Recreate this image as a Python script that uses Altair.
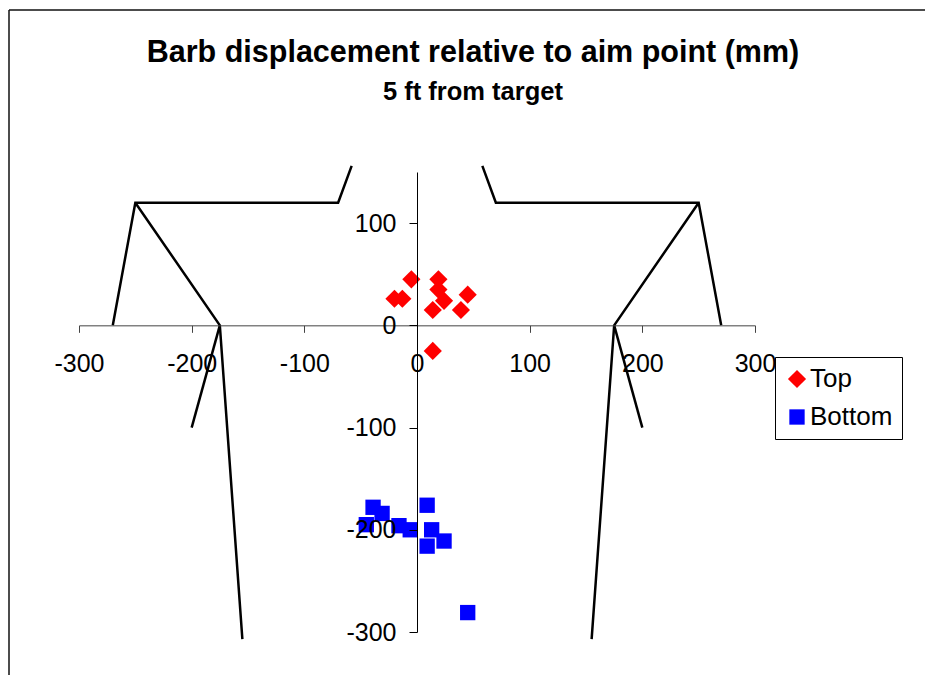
import altair as alt
import pandas as pd

# --- data ---
series_top_x = [-5, 19, 19, -20, -13, 24, 45, 14, 39, 14]
series_top_y = [45, 45, 35, 26, 26, 24, 30, 15, 15, -25]
series_bottom_x = [-39, -31, -45, -16, -6, 9, 13, 9, 24, 45]
series_bottom_y = [-178, -184, -195, -196, -200, -176, -200, -216, -211, -281]

# target outline polylines (mm)
outline_segments = {
    "L1": [(-270, 0), (-250, 120), (-70, 120), (-58, 156)],
    "L2": [(-250, 120), (-175, 0), (-155, -307)],
    "L3": [(-175, 0), (-200, -100)],
    "R1": [(270, 0), (250, 120), (70, 120), (58, 156)],
    "R2": [(250, 120), (175, 0), (155, -307)],
    "R3": [(175, 0), (200, -100)],
}

x_ticks = [-300, -200, -100, 0, 100, 200, 300]
y_ticks = [-300, -200, -100, 0, 100]
x_domain = [-300, 300]
y_domain = [-300, 150]
series_names = ["Top", "Bottom"]
series_colors = ["#ff0000", "#0000ff"]
series_shapes = ["diamond", "square"]
series_sizes = [330, 235]

pts = pd.DataFrame(
    [{"x": x, "y": y, "series": "Top"} for x, y in zip(series_top_x, series_top_y)]
    + [{"x": x, "y": y, "series": "Bottom"} for x, y in zip(series_bottom_x, series_bottom_y)]
)
lines = pd.DataFrame(
    [{"seg": k, "i": i, "x": p[0], "y": p[1]} for k, v in outline_segments.items() for i, p in enumerate(v)]
)

W, H = 676, 460
x_axis_offset = -(H - H * y_domain[1] / (y_domain[1] - y_domain[0]))
y_axis_offset = -(W * (0 - x_domain[0]) / (x_domain[1] - x_domain[0]))

FONT = "Liberation Sans"

xs = alt.Scale(domain=x_domain, nice=False, zero=False)
ys = alt.Scale(domain=y_domain, nice=False, zero=False)

x_axis = alt.Axis(values=x_ticks, offset=x_axis_offset, tickSize=7, labelPadding=19,
                  domainColor="#444444", tickColor="#444444", domainWidth=1, tickWidth=1,
                  labelFontSize=25, labelFont=FONT, labelColor="black", grid=False, title=None,
                  labelFlush=False, labelOverlap=False, zindex=1, labelExpr="'' + datum.value")
y_axis = alt.Axis(values=y_ticks, offset=y_axis_offset, tickSize=8, labelPadding=13,
                  domainColor="black", tickColor="black", domainWidth=1, tickWidth=1,
                  labelFontSize=25, labelFont=FONT, labelColor="black", grid=False, title=None,
                  labelFlush=False, labelOverlap=False, zindex=1, labelExpr="'' + datum.value")

outline = alt.Chart(lines).mark_line(color="black", strokeWidth=2.5).encode(
    x=alt.X("x:Q", scale=xs, axis=x_axis),
    y=alt.Y("y:Q", scale=ys, axis=y_axis),
    detail="seg:N",
    order="i:Q",
)

leg = alt.Legend(title=None, orient="none", legendX=696, legendY=185,
                 strokeColor="black", fillColor="white", padding=9,
                 labelFontSize=26, labelFont=FONT, labelColor="black",
                 labelOffset=0, rowPadding=12, symbolSize=230,
                 symbolStrokeWidth=0)

points = alt.Chart(pts).mark_point(filled=True, opacity=1).encode(
    x=alt.X("x:Q", scale=xs),
    y=alt.Y("y:Q", scale=ys),
    color=alt.Color("series:N", scale=alt.Scale(domain=series_names, range=series_colors), legend=leg),
    shape=alt.Shape("series:N", scale=alt.Scale(domain=series_names, range=series_shapes), legend=leg),
    size=alt.Size("series:N", scale=alt.Scale(domain=series_names, range=series_sizes), legend=None),
)

frame_data = alt.Data(values=[{"k": 1}])
frame_top = alt.Chart(frame_data).mark_rule(color="#111111", strokeWidth=1.5).encode(
    x=alt.value(-70), x2=alt.value(870), y=alt.value(-162)
)
frame_left = alt.Chart(frame_data).mark_rule(color="#111111", strokeWidth=1.5).encode(
    x=alt.value(-70), y=alt.value(-162), y2=alt.value(520)
)

chart = alt.layer(outline, points, frame_top, frame_left).properties(
    width=W, height=H,
    autosize=alt.AutoSizeParams(type="none"),
    padding={"left": 79, "top": 172, "right": 170, "bottom": 43},
    title=alt.TitleParams(
        text="Barb displacement relative to aim point (mm)",
        subtitle="5 ft from target",
        font=FONT, fontSize=30.5, fontWeight="bold", color="black",
        subtitleFont=FONT, subtitleFontSize=25.5, subtitleFontWeight="bold", subtitleColor="black",
        subtitlePadding=11, anchor="middle", frame="group", dx=56, offset=-96,
    ),
).configure(background="white", view=alt.ViewConfig(stroke="transparent", strokeWidth=0))

chart.save("out.html", embed_options={"renderer": "svg", "actions": False})
